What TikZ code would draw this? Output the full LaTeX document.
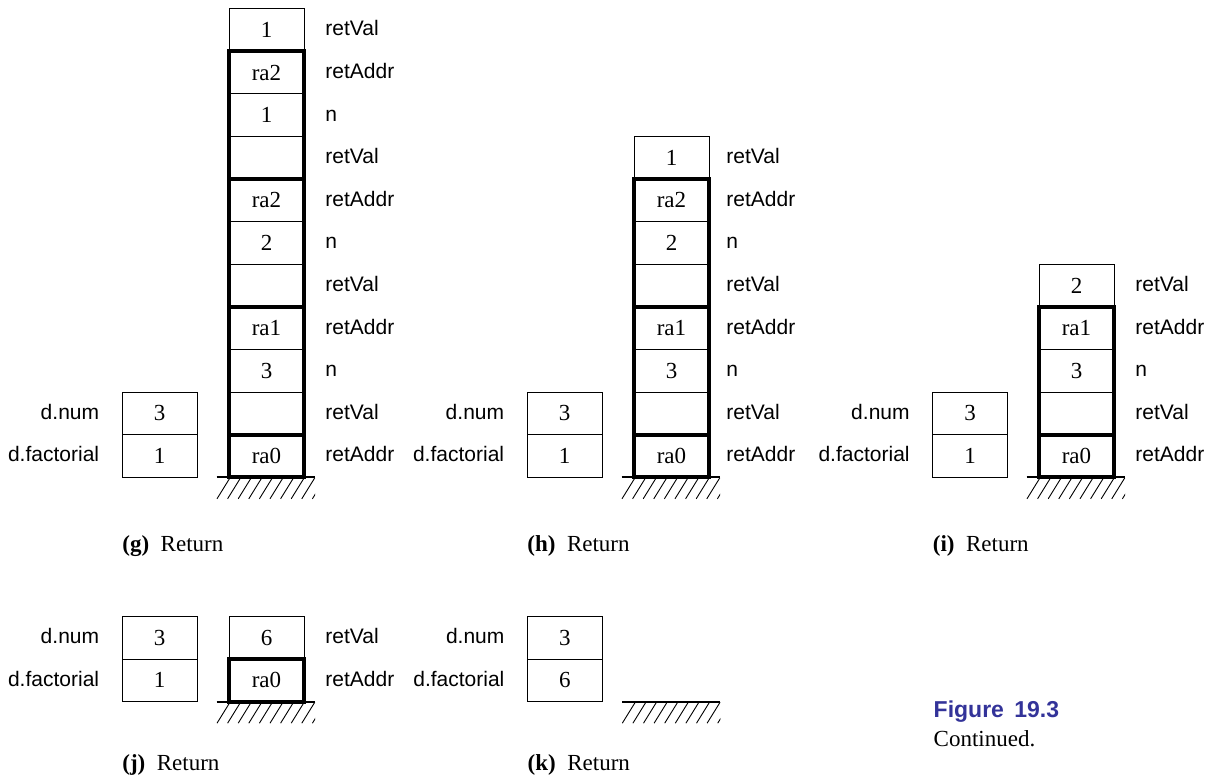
\documentclass[tikz,border=0pt]{standalone}
\usepackage{fontspec}
\setmainfont{Liberation Serif}
\setsansfont{Liberation Sans}
\definecolor{figblue}{RGB}{51,51,153}

% stack cells, listed from the bottom up
\newcommand{\stackcells}[4]{% #1 prefix, #2 left x, #3 base y, #4 contents
  \foreach \v [count=\i from 0] in {#4}
    \node[cell] (#1\i) at ({#2+37.5},{#3-(\i+0.5)*42.6}) {\v};
}
% slot names to the right of a stack, listed from the bottom up
\newcommand{\rowlabels}[4]{% #1 prefix, #2 label x, #3 base y, #4 labels
  \foreach \t [count=\i from 0] in {#4}
    \node[lab] (#1\i) at ({#2},{#3-(\i+0.5)*42.6+6}) {\t};
}
% the two fields of d
\newcommand{\dvars}[4]{% #1 prefix, #2 box left x, #3 base y, #4 factorial value
  \node[cell] (#1f) at ({#2+37.5},{#3-0.5*42.6}) {#4};
  \node[cell] (#1n) at ({#2+37.5},{#3-1.5*42.6}) {3};
  \node[rlab] (#1fl) at ({#2-22.5},{#3-0.5*42.6+6}) {d.factorial};
  \node[rlab] (#1nl) at ({#2-22.5},{#3-1.5*42.6+6}) {d.num};
}
% hatched floor under a stack
\newcommand{\groundhatch}[3]{% #1 prefix, #2 stack left x, #3 base y
  \coordinate (#1L) at ({#2-12.3},{#3});
  \coordinate (#1R) at ({#2+86},{#3});
  \begin{scope}
    \clip ({#2-12.3},{#3}) rectangle ({#2+86},{#3+22});
    \foreach \k in {0,...,9}
      \draw[hatchline] ({#2-12+\k*10.6},{#3+21.5}) -- ++(13,-21);
  \end{scope}
  \draw[groundline] (#1L) -- (#1R);
}

\begin{document}
\begin{tikzpicture}[x=0.5pt,y=-0.5pt,
  cell/.style={draw, line width=0.5pt, minimum width=37.5pt, minimum height=21.3pt,
    inner sep=0pt, outer sep=0pt, font=\fontsize{11.5}{13}\selectfont},
  frame/.style={line width=2pt},
  lab/.style={font=\sffamily\fontsize{10.5}{12}\selectfont, inner sep=0pt, anchor=base west},
  rlab/.style={lab, anchor=base east},
  groundline/.style={line width=1.2pt},
  hatchline/.style={line width=0.45pt},
  capt/.style={font=\fontsize{11.5}{13}\selectfont, inner sep=0pt, anchor=base west},
]
\path[use as bounding box] (0,0) rectangle (1220,779);

% ---------- (g) ----------
\dvars{gd}{122}{477.3}{1}
\stackcells{g}{229}{477.3}{ra0,{},3,ra1,{},2,ra2,{},1,ra2,1}
\rowlabels{gl}{325}{477.3}{retAddr,retVal,n,retAddr,retVal,n,retAddr,retVal,n,retAddr,retVal}
\draw[frame] (g0.south west) rectangle (g0.north east);
\draw[frame] (g1.south west) rectangle (g3.north east);
\draw[frame] (g4.south west) rectangle (g6.north east);
\draw[frame] (g7.south west) rectangle (g9.north east);
\groundhatch{gg}{229}{477.3}
\node[capt] (gcap) at (122,552) {\textbf{(g)}\hspace{0.5em}Return};

% ---------- (h) ----------
\dvars{hd}{527}{477.3}{1}
\stackcells{h}{634}{477.3}{ra0,{},3,ra1,{},2,ra2,1}
\rowlabels{hl}{726}{477.3}{retAddr,retVal,n,retAddr,retVal,n,retAddr,retVal}
\draw[frame] (h0.south west) rectangle (h0.north east);
\draw[frame] (h1.south west) rectangle (h3.north east);
\draw[frame] (h4.south west) rectangle (h6.north east);
\groundhatch{hg}{634}{477.3}
\node[capt] (hcap) at (527,552) {\textbf{(h)}\hspace{0.5em}Return};

% ---------- (i) ----------
\dvars{id}{932.5}{477.3}{1}
\stackcells{i}{1039}{477.3}{ra0,{},3,ra1,2}
\rowlabels{il}{1135}{477.3}{retAddr,retVal,n,retAddr,retVal}
\draw[frame] (i0.south west) rectangle (i0.north east);
\draw[frame] (i1.south west) rectangle (i3.north east);
\groundhatch{ig}{1039}{477.3}
\node[capt] (icap) at (932.5,552) {\textbf{(i)}\hspace{0.5em}Return};

% ---------- (j) ----------
\dvars{jd}{122}{701.7}{1}
\stackcells{j}{229}{701.7}{ra0,6}
\rowlabels{jl}{325}{701.7}{retAddr,retVal}
\draw[frame] (j0.south west) rectangle (j0.north east);
\groundhatch{jg}{229}{701.7}
\node[capt] (jcap) at (122,770) {\textbf{(j)}\hspace{0.5em}Return};

% ---------- (k) ----------
\dvars{kd}{527.3}{701.7}{6}
\groundhatch{kg}{634.3}{701.7}
\node[capt] (kcap) at (527.3,770) {\textbf{(k)}\hspace{0.5em}Return};

% ---------- figure caption ----------
\node[anchor=base west, inner sep=0pt, text=figblue,
  font=\sffamily\bfseries\fontsize{11.5}{13}\selectfont] (fig) at (933.3,717.3)
  {Figure\hspace{0.45em}19.3};
\node[capt] (cont) at (933.3,746.7) {Continued.};
\end{tikzpicture}
\end{document}
